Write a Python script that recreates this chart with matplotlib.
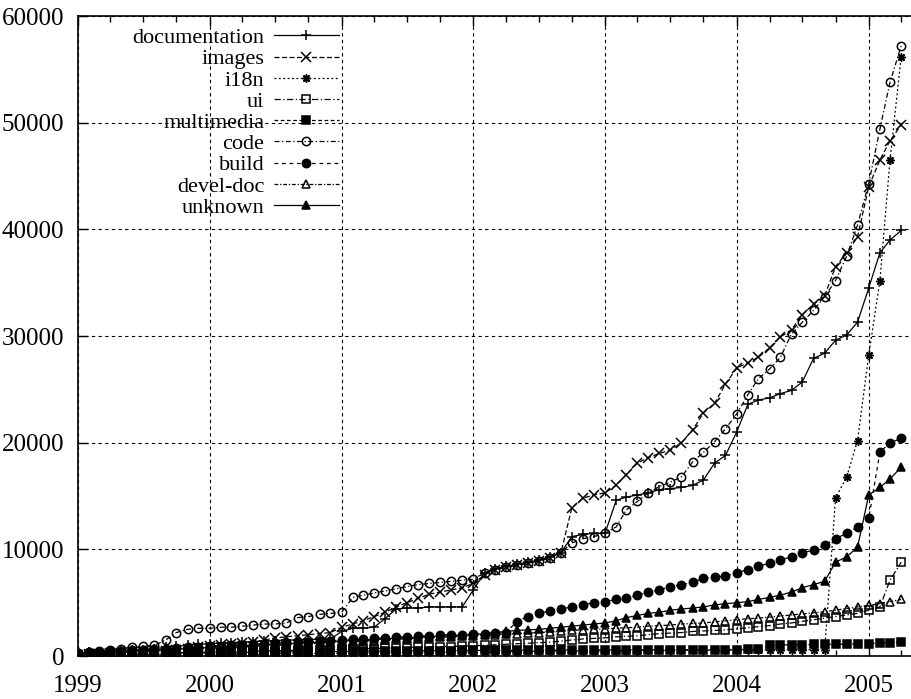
"""Cumulative size per file category over time, gnuplot-like look.
"""
import matplotlib
matplotlib.use('agg')
import matplotlib.pyplot as plt
import matplotlib.dates as mdates
import pandas as pd

# monthly samples, Jan 1999 .. Apr 2005
months = pd.date_range('1999-01-01', periods=76, freq='MS')

documentation = [
    300, 350, 400, 450, 500, 550, 600, 700, 800, 900, 1000, 1100,
    1150, 1200, 1250, 1300, 1350, 1400, 1450, 1500, 1500, 1550, 1550, 1600,
    2300, 2600, 2600, 2700, 3500, 4400, 4500, 4500, 4600, 4600, 4600, 4600,
    6200, 7800, 8200, 8400, 8600, 8800, 9000, 9300, 9700, 11200, 11400, 11500,
    11500, 14600, 14900, 15100, 15300, 15600, 15700, 15800, 16000, 16500, 18100, 18800,
    21000, 23600, 24000, 24200, 24600, 24900, 25700, 27900, 28400, 29600, 30100, 31300,
    34500, 37800, 39000, 39900,
]
images = [
    100, 150, 200, 250, 300, 350, 400, 450, 500, 600, 700, 800,
    900, 1000, 1100, 1200, 1300, 1500, 1700, 1800, 1900, 2000, 2100, 2200,
    2700, 3000, 3300, 3700, 4100, 4600, 5000, 5400, 5800, 6000, 6200, 6400,
    6800, 7600, 8100, 8300, 8500, 8700, 8900, 9200, 9700, 13900, 14800, 15100,
    15300, 16000, 17000, 18100, 18600, 19000, 19300, 20000, 21200, 22800, 23700, 25500,
    27000, 27500, 28000, 28900, 29900, 30600, 32000, 33000, 33800, 36500, 37800, 39300,
    44000, 46500, 48300, 49800,
]
i18n = [
    20, 30, 40, 50, 60, 70, 80, 90, 100, 110, 120, 130,
    140, 150, 160, 170, 180, 190, 200, 210, 220, 230, 240, 250,
    260, 270, 280, 290, 300, 310, 320, 330, 340, 350, 360, 370,
    380, 390, 400, 410, 420, 430, 440, 450, 460, 470, 480, 490,
    500, 500, 510, 510, 520, 520, 530, 530, 540, 540, 550, 550,
    560, 560, 570, 570, 580, 580, 590, 590, 600, 14800, 16800, 20200,
    28200, 35200, 46500, 56200,
]
ui = [
    50, 80, 100, 120, 150, 180, 200, 230, 260, 300, 330, 360,
    380, 400, 420, 440, 460, 480, 500, 520, 540, 560, 580, 600,
    620, 650, 680, 700, 730, 760, 790, 820, 850, 870, 890, 920,
    950, 1000, 1050, 1100, 1150, 1200, 1250, 1300, 1400, 1500, 1600, 1650,
    1700, 1800, 1850, 1900, 2000, 2100, 2150, 2200, 2300, 2350, 2400, 2450,
    2550, 2650, 2750, 2850, 3000, 3100, 3250, 3400, 3550, 3700, 3850, 4000,
    4300, 4600, 7100, 8800,
]
multimedia = [
    50, 60, 80, 100, 120, 140, 160, 180, 200, 220, 240, 260,
    280, 300, 320, 340, 350, 360, 370, 380, 390, 400, 410, 420,
    430, 440, 450, 460, 470, 480, 490, 500, 500, 510, 510, 520,
    520, 530, 530, 540, 540, 550, 550, 550, 560, 560, 560, 570,
    570, 570, 580, 580, 580, 590, 590, 590, 600, 600, 600, 610,
    610, 620, 620, 1000, 1030, 1050, 1060, 1080, 1100, 1100, 1120, 1150,
    1170, 1200, 1250, 1300,
]
code = [
    300, 400, 500, 600, 700, 800, 900, 1000, 1500, 2200, 2500, 2600,
    2600, 2700, 2700, 2800, 2900, 3000, 3000, 3100, 3600, 3700, 3900, 4000,
    4100, 5500, 5700, 5900, 6100, 6300, 6500, 6700, 6800, 6900, 7000, 7100,
    7200, 7800, 8100, 8300, 8500, 8700, 8900, 9200, 9700, 10600, 11000, 11200,
    11500, 12100, 13700, 14500, 15300, 15900, 16300, 16800, 18200, 19100, 20100, 21300,
    22700, 24500, 26000, 26900, 28000, 30200, 31300, 32400, 33700, 35200, 37500, 40400,
    44300, 49400, 53800, 57200,
]
build = [
    300, 350, 400, 450, 500, 550, 600, 650, 700, 750, 800, 850,
    900, 950, 1000, 1050, 1100, 1150, 1200, 1250, 1300, 1350, 1400, 1450,
    1500, 1550, 1600, 1650, 1700, 1750, 1800, 1850, 1900, 1950, 2000, 2000,
    2050, 2100, 2150, 2200, 3200, 3700, 4000, 4200, 4400, 4600, 4800, 5000,
    5100, 5300, 5400, 5700, 6000, 6200, 6500, 6700, 6900, 7300, 7400, 7500,
    7800, 8100, 8400, 8700, 9000, 9300, 9700, 9900, 10400, 11000, 11500, 12100,
    12900, 19100, 20000, 20400,
]
devel_doc = [
    100, 150, 200, 250, 300, 350, 400, 450, 500, 550, 600, 650,
    700, 750, 800, 850, 900, 950, 1000, 1050, 1100, 1150, 1200, 1250,
    1300, 1350, 1400, 1450, 1500, 1550, 1600, 1650, 1700, 1750, 1800, 1850,
    1900, 1950, 2000, 2050, 2100, 2150, 2200, 2250, 2300, 2400, 2450, 2500,
    2550, 2600, 2650, 2700, 2800, 2850, 2900, 3000, 3050, 3100, 3200, 3300,
    3400, 3500, 3550, 3650, 3750, 3850, 3950, 4050, 4150, 4300, 4450, 4600,
    4750, 4900, 5100, 5300,
]
unknown = [
    200, 250, 300, 350, 400, 450, 500, 550, 600, 650, 700, 750,
    800, 850, 900, 950, 1000, 1050, 1100, 1150, 1200, 1250, 1300, 1350,
    1400, 1450, 1500, 1550, 1600, 1650, 1700, 1750, 1800, 1850, 1900, 1950,
    2000, 2100, 2200, 2300, 2400, 2450, 2500, 2600, 2700, 2800, 2900, 3000,
    3100, 3300, 3600, 3800, 4000, 4100, 4300, 4400, 4500, 4600, 4800, 4900,
    5000, 5100, 5300, 5500, 5700, 6000, 6400, 6700, 7000, 8800, 9300, 10200,
    15100, 15800, 16600, 17700,
]

y_ticks = [0, 10000, 20000, 30000, 40000, 50000, 60000]

# label, values, linestyle, marker, filled
SERIES = [
    ('documentation', documentation, '-', '+', True),
    ('images', images, (0, (4, 2)), 'x', True),
    ('i18n', i18n, (0, (1.5, 2)), (8, 2, 0), True),
    ('ui', ui, (0, (5, 2, 1, 2)), 's', False),
    ('multimedia', multimedia, (0, (3, 2)), 's', True),
    ('code', code, (0, (4, 2, 1, 2)), 'o', False),
    ('build', build, (0, (3, 3)), 'o', True),
    ('devel-doc', devel_doc, (0, (3, 1.5, 1, 1.5)), '^', False),
    ('unknown', unknown, '-', '^', True),
]


def plot_series(ax):
    for label, values, ls, marker, filled in SERIES:
        kw = dict(color='black', linestyle=ls, linewidth=0.9,
                  marker=marker, markersize=6, markeredgewidth=1.1)
        if filled:
            kw['markerfacecolor'] = 'black'
        else:
            kw['markerfacecolor'] = 'none'
        if marker in ('+', 'x'):
            kw['markersize'] = 7
        ax.plot(months, values, label=label, **kw)


def style_axes(ax):
    ax.set_xlim(pd.Timestamp('1999-01-01'), pd.Timestamp('2005-05-01'))
    ax.set_ylim(0, 60000)
    ax.xaxis.set_major_locator(mdates.YearLocator())
    ax.xaxis.set_major_formatter(mdates.DateFormatter('%Y'))
    ax.xaxis.set_minor_locator(mdates.MonthLocator(bymonth=(4, 7, 10)))
    ax.set_yticks(y_ticks)
    ax.set_yticklabels([str(v) for v in y_ticks])

    ax.tick_params(which='both', direction='in', top=True, right=False,
                   labelsize=18, width=1.0)
    ax.tick_params(which='major', length=7)
    ax.tick_params(which='minor', length=4)
    ax.tick_params(axis='x', pad=14)
    ax.tick_params(axis='y', pad=10)

    ax.grid(True, which='major', color='black', linestyle=(0, (3, 3)),
            linewidth=0.8)
    for side in ('left', 'top', 'bottom'):
        ax.spines[side].set_linewidth(1.2)
    ax.spines['right'].set_visible(False)


def add_legend(ax):
    leg = ax.legend(loc='upper left', bbox_to_anchor=(0.065, 0.982),
                    frameon=False, markerfirst=False, fontsize=16,
                    handlelength=2.9, handletextpad=0.45,
                    labelspacing=0.03, borderpad=0.0, borderaxespad=0.0)
    # gnuplot style key: labels right aligned against the samples
    for column in leg._legend_handle_box.get_children():
        column.align = 'right'
    return leg


def main():
    plt.rcParams['font.family'] = ['Liberation Serif', 'DejaVu Serif']
    fig = plt.figure(figsize=(9.12, 6.99), dpi=100)
    ax = fig.add_axes([0.0855, 0.0615, 0.9145, 0.9155])
    plot_series(ax)
    style_axes(ax)
    add_legend(ax)
    fig.savefig('out.png', dpi=100)


if __name__ == '__main__':
    main()
